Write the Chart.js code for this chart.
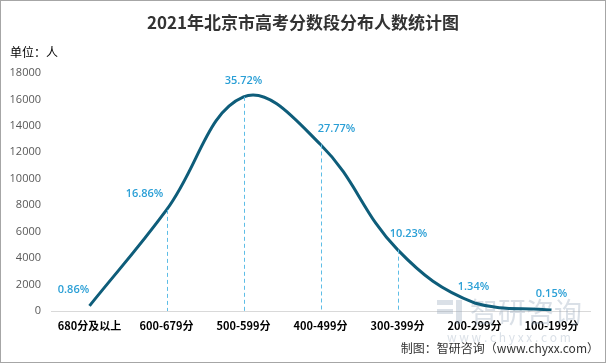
<!DOCTYPE html>
<html>
<head>
<meta charset="utf-8">
<script src="https://cdn.jsdelivr.net/npm/chart.js@4/dist/chart.umd.min.js"></script>
<style>
  html, body { margin: 0; padding: 0; background: #fff; }
  #wrap { position: relative; width: 606px; height: 363px; box-sizing: border-box; border: 1px solid #a6a6a6; }
</style>
</head>
<body>
<div id="wrap"><canvas id="myChart" width="604" height="361"></canvas></div>
<script>
var categories = ['680分及以上', '600-679分', '500-599分', '400-499分', '300-399分', '200-299分', '100-199分'];
var counts = [390, 7646, 16199, 12594, 4639, 608, 68];
var shares = ['0.86%', '16.86%', '35.72%', '27.77%', '10.23%', '1.34%', '0.15%'];
var yTicks = [0, 2000, 4000, 6000, 8000, 10000, 12000, 14000, 16000, 18000];

var cjk = '"Noto Sans CJK SC", "Noto Sans", sans-serif';

// dashed drop lines, percentage labels and the surrounding texts
var extras = {
  id: 'extras',
  afterDatasetsDraw: function(chart) {
    var ctx = chart.ctx;
    var meta = chart.getDatasetMeta(0);
    var bottom = chart.scales.y.getPixelForValue(0);
    var labelDx = [-16, -22, 0, 16, 11, -1, 0];
    ctx.save();
    ctx.strokeStyle = '#5dbde6';
    ctx.lineWidth = 1;
    ctx.setLineDash([4, 3]);
    for (var i = 1; i < meta.data.length - 2; i++) {
      var p = meta.data[i];
      ctx.beginPath();
      ctx.moveTo(Math.round(p.x) + 0.5, p.y);
      ctx.lineTo(Math.round(p.x) + 0.5, bottom);
      ctx.stroke();
    }
    ctx.setLineDash([]);
    ctx.fillStyle = '#2a9fd6';
    ctx.font = '600 11px "Open Sans", sans-serif';
    ctx.textAlign = 'center';
    ctx.textBaseline = 'middle';
    for (var j = 0; j < meta.data.length; j++) {
      var q = meta.data[j];
      ctx.fillText(shares[j], q.x + labelDx[j], q.y - 16);
    }
    ctx.restore();
  },
  beforeDatasetsDraw: function(chart) {
    var ctx = chart.ctx;
    ctx.save();
    // watermark
    ctx.fillStyle = 'rgba(150,165,185,0.35)';
    ctx.font = '28px ' + cjk;
    ctx.textAlign = 'left';
    ctx.textBaseline = 'middle';
    ctx.fillText('智研咨询', 469, 311);
    ctx.fillRect(436, 299, 16, 5);
    ctx.fillRect(436, 308, 16, 5);
    ctx.fillRect(455, 299, 6, 24);
    ctx.font = '12px ' + cjk;
    ctx.fillText('w w w . c h y x x . c o m', 446, 336);
    ctx.restore();
  },
  afterDraw: function(chart) {
    var ctx = chart.ctx;
    ctx.save();
    ctx.fillStyle = '#333';
    ctx.font = 'bold 17px ' + cjk;
    ctx.textAlign = 'center';
    ctx.textBaseline = 'middle';
    ctx.fillText('2021年北京市高考分数段分布人数统计图', 302, 22);
    ctx.fillStyle = '#000';
    ctx.font = '12px ' + cjk;
    ctx.textAlign = 'left';
    ctx.fillText('单位：人', 9, 51);
    ctx.fillStyle = '#333';
    ctx.textAlign = 'right';
    ctx.fillText('制图：智研咨询（www.chyxx.com）', 598, 347);
    ctx.restore();
  }
};

var ctx = document.getElementById('myChart').getContext('2d');
var myChart = new Chart(ctx, {
  type: 'line',
  data: {
    labels: categories,
    datasets: [{
      data: counts,
      borderColor: '#0e5d7a',
      borderWidth: 3,
      pointRadius: 0,
      tension: 0.4,
      fill: false
    }]
  },
  options: {
    responsive: false,
    animation: false,
    layout: { padding: { top: 72, left: 0, right: 15, bottom: 0 } },
    plugins: {
      legend: { display: false },
      tooltip: { enabled: false }
    },
    scales: {
      x: {
        offset: true,
        grid: { display: false, drawTicks: false },
        border: { color: '#d9d9d9' },
        ticks: {
          color: '#000',
          padding: 8,
          maxRotation: 0,
          autoSkip: false,
          font: { family: cjk, size: 11, weight: 'bold' }
        },
        afterFit: function(scale) { scale.height = 51; }
      },
      y: {
        min: 0,
        max: 18000,
        grid: { display: false, drawTicks: false },
        border: { display: false },
        afterBuildTicks: function(scale) {
          scale.ticks = yTicks.map(function(v) { return { value: v }; });
        },
        ticks: {
          color: '#595959',
          padding: 10,
          font: { family: '"Open Sans", sans-serif', size: 11 },
          callback: function(v) { return String(v); }
        },
        afterFit: function(scale) { scale.width = 50; }
      }
    }
  },
  plugins: [extras]
});
</script>
</body>
</html>
